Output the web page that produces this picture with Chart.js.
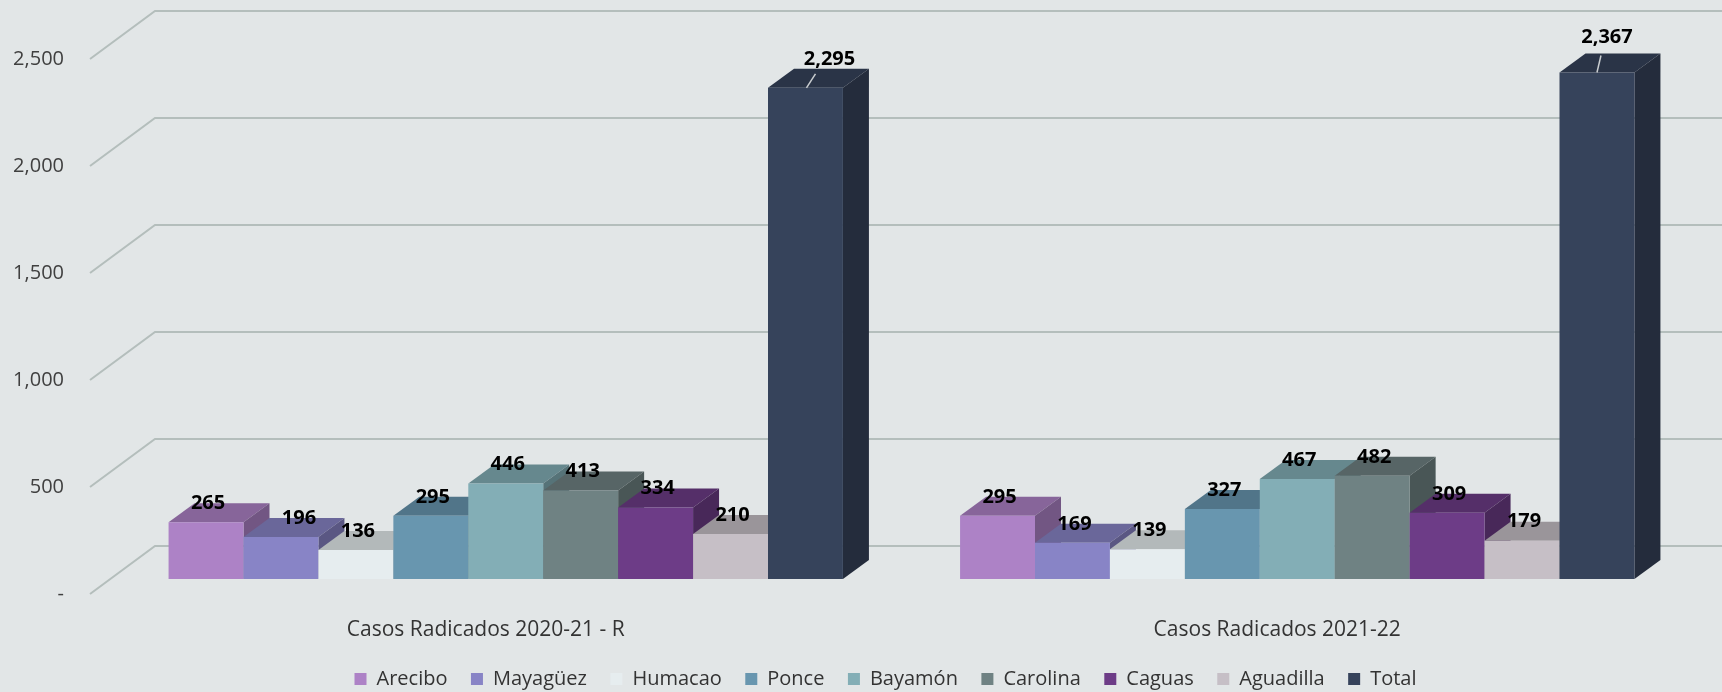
<!DOCTYPE html>
<html>
<head>
<meta charset="utf-8">
<script src="https://cdn.jsdelivr.net/npm/chart.js@4.4.0/dist/chart.umd.min.js"></script>
<style>
  html, body { margin: 0; padding: 0; background: #e2e6e7; }
  #wrap { width: 1722px; height: 692px; }
</style>
</head>
<body>
<div id="wrap"><canvas id="chart"></canvas></div>
<script>
const categories = ['Casos Radicados 2020-21 - R', 'Casos Radicados 2021-22'];
const regions = ['Arecibo', 'Mayagüez', 'Humacao', 'Ponce', 'Bayamón', 'Carolina', 'Caguas', 'Aguadilla', 'Total'];
const casos2020 = [265, 196, 136, 295, 446, 413, 334, 210, 2295];
const casos2021 = [295, 169, 139, 327, 467, 482, 309, 179, 2367];
const yTicks = [0, 500, 1000, 1500, 2000, 2500];
const colors = ['#ad82c6', '#8884c6', '#e6edef', '#6896af', '#83aeb6', '#6f8283', '#6d3c87', '#c6bfc6', '#36435b'];

// --- 3D GEOMETRY ---
const SHIFT = { x: 20, y: -15 };   // bar plane sits behind the axis front edge
const DEPTH = { x: 26, y: -19 };   // depth of each bar
const BACK = { x: 65, y: -48 };    // back wall
const BG = '#e2e6e7';

function shade(hex, f) {
    const n = parseInt(hex.slice(1), 16);
    const r = Math.round(((n >> 16) & 255) * f), g = Math.round(((n >> 8) & 255) * f), b = Math.round((n & 255) * f);
    return `rgb(${r},${g},${b})`;
}

function poly(ctx, pts) {
    ctx.beginPath();
    pts.forEach((p, i) => i ? ctx.lineTo(p[0], p[1]) : ctx.moveTo(p[0], p[1]));
    ctx.closePath(); ctx.fill();
}

const box3d = {
    id: 'box3d',
    afterLayout(chart) {
        // legend sits a bit lower and centred on the plot
        const lg = chart.legend, a = chart.chartArea;
        const dy = (chart.height - 13) - (lg.top + lg.options.labels.padding + 10);
        const dx = (a.left + a.right) / 2 + 4 - (lg.left + lg.right) / 2;
        lg.top += dy; lg.bottom += dy; lg.left += dx; lg.right += dx;
    },
    beforeDraw(chart) {
        const { ctx, chartArea: a, scales: { y } } = chart;
        ctx.save();
        ctx.fillStyle = BG;
        ctx.fillRect(0, 0, chart.width, chart.height);
        ctx.strokeStyle = '#b4bebc';
        ctx.lineWidth = 2;
        yTicks.forEach(v => {
            const py = y.getPixelForValue(v);
            ctx.beginPath();
            ctx.moveTo(a.left, py);
            ctx.lineTo(a.left + BACK.x, py + BACK.y);
            ctx.lineTo(chart.width, py + BACK.y);
            ctx.stroke();
        });
        ctx.restore();
    },
    // chart.js paints datasets last-to-first; we paint them ourselves left-to-right
    beforeDatasetDraw() { return false; },
    afterDatasetsDraw(chart) {
        const ctx = chart.ctx, sets = chart.data.datasets, last = sets.length - 1;
        ctx.save();
        ctx.translate(SHIFT.x, SHIFT.y);
        sets.forEach((ds, di) => {
            chart.getDatasetMeta(di).data.forEach(bar => {
                const l = bar.x - bar.width / 2, r = bar.x + bar.width / 2, t = bar.y, b = bar.base;
                ctx.fillStyle = shade(ds.backgroundColor, 0.78);
                poly(ctx, [[l, t], [l + DEPTH.x, t + DEPTH.y], [r + DEPTH.x, t + DEPTH.y], [r, t]]);
                ctx.fillStyle = shade(ds.backgroundColor, 0.66);
                poly(ctx, [[r, t], [r + DEPTH.x, t + DEPTH.y], [r + DEPTH.x, b + DEPTH.y], [r, b]]);
                bar.draw(ctx);
            });
        });

        ctx.font = 'bold 20px "Open Sans"';
        ctx.textAlign = 'center'; ctx.textBaseline = 'middle';
        sets.forEach((ds, di) => {
            chart.getDatasetMeta(di).data.forEach((bar, i) => {
                const txt = ds.data[i].toLocaleString('en-US');
                let x = bar.x + 2, y = bar.y - 19;
                if (di === 1 && i === 0) x += 16;   // excel nudged this one right
                if (di === last) {
                    // totals are pulled up with a leader line
                    const lead = i === 0 ? [1, 10, -14, 24, -29] : [0, 4, -17, 10, -35];
                    ctx.strokeStyle = '#c9cdd0'; ctx.lineWidth = 1.5;
                    ctx.beginPath();
                    ctx.moveTo(bar.x + lead[0], bar.y);
                    ctx.lineTo(bar.x + lead[1], bar.y + lead[2]);
                    ctx.stroke();
                    x = bar.x + lead[3]; y = bar.y + lead[4];
                }
                ctx.fillStyle = '#000';
                ctx.fillText(txt, x, y);
            });
        });
        ctx.restore();
    }
};

Chart.defaults.font.family = '"Open Sans", sans-serif';

new Chart(document.getElementById('chart'), {
    type: 'bar',
    data: {
        labels: categories,
        datasets: regions.map((r, i) => ({
            label: r,
            data: [casos2020[i], casos2021[i]],
            backgroundColor: colors[i],
            borderWidth: 0
        }))
    },
    options: {
        responsive: true,
        maintainAspectRatio: false,
        animation: false,
        layout: { padding: { top: 59, right: 49, left: 0, bottom: 0 } },
        datasets: { bar: { categoryPercentage: 0.852, barPercentage: 1 } },
        plugins: {
            tooltip: { enabled: false },
            legend: {
                position: 'bottom',
                labels: { boxWidth: 12, boxHeight: 12, padding: 23.5, color: '#333', font: { size: 20 } }
            }
        },
        scales: {
            x: {
                grid: { display: false, drawTicks: false },
                border: { display: false },
                ticks: { padding: 23, color: '#333', font: { size: 21 } },
                afterFit: s => { s.height = 98 - s.chart.legend.height; }
            },
            y: {
                min: 0, max: 2500,
                grid: { display: false, drawTicks: false },
                border: { display: false },
                ticks: {
                    stepSize: 500, padding: 26, color: '#404040', font: { size: 20 },
                    callback: v => v === 0 ? '-' : v.toLocaleString('en-US')
                },
                afterFit: s => { s.width = 90; }
            }
        }
    },
    plugins: [box3d]
});
</script>
</body>
</html>
